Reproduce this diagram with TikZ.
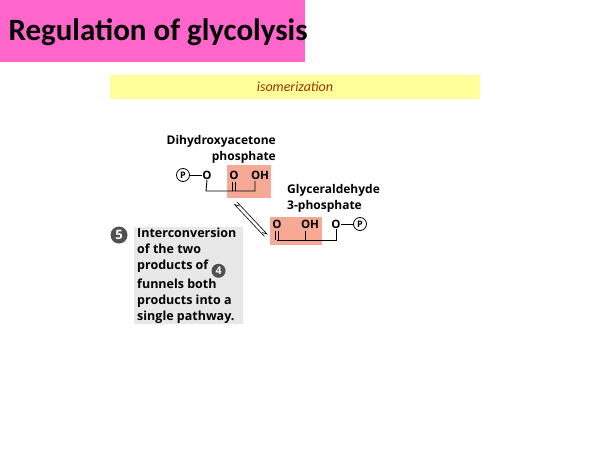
\documentclass[tikz,border=0pt]{standalone}
\usepackage{fontspec}
\setmainfont{Carlito}
\newfontfamily\figfont{Open Sans}
\usetikzlibrary{positioning}
\definecolor{titlepink}{RGB}{255,102,204}
\definecolor{baryellow}{RGB}{255,255,153}
\definecolor{isored}{RGB}{153,51,0}
\definecolor{hilite}{RGB}{246,170,150}
\definecolor{notegray}{RGB}{232,232,232}
\definecolor{stepgray}{RGB}{80,80,80}
\tikzset{
  lbl/.style={font=\figfont\bfseries\fontsize{12}{14}\selectfont, inner sep=0pt},
  atom/.style={font=\figfont\bfseries\fontsize{11.5}{12}\selectfont, inner sep=0.5pt},
  phos/.style={circle, draw, line width=0.8pt, inner sep=0pt, minimum size=13pt, font=\figfont\bfseries\fontsize{9}{9}\selectfont},
  stepnum/.style={circle, fill=stepgray, text=white, inner sep=0pt, minimum size=17pt, font=\figfont\bfseries\fontsize{13}{13}\selectfont},
  bond/.style={line width=0.9pt}
}
\begin{document}
\begin{tikzpicture}[x=1pt,y=-1pt]
\useasboundingbox (0,0) rectangle (600,450);
% title
\fill[titlepink] (0,0) rectangle (305,62);
\node[font=\bfseries\fontsize{31}{33}\selectfont, anchor=west] (title) at (5,32) {Regulation of glycolysis};
% step bar
\fill[baryellow] (110,75) rectangle (480,99);
\node[font=\itshape\fontsize{14}{16}\selectfont, text=isored] (iso) at (295,87) {isomerization};
% dihydroxyacetone phosphate
\fill[hilite] (227,165) rectangle (271,198);
\node[lbl, anchor=east] (dhap1) at (276,141) {Dihydroxyacetone};
\node[lbl, anchor=east] (dhap2) at (276,157) {phosphate};
\node[phos] (p1) at (183,175) {P};
\node[atom] (o1) at (207,175) {O};
\node[atom] (o2) at (234,175) {O};
\node[atom] (oh1) at (260,175) {OH};
\draw[bond] (p1) -- (o1);
\draw[bond] (o1.south) -- (206,191) -- (255,191) -- (255,181);
\draw[bond] (232.5,182) -- (232.5,191) (235.5,182) -- (235.5,191);
% glyceraldehyde 3-phosphate
\fill[hilite] (270,217) rectangle (322,245);
\node[lbl, anchor=west] (gap1) at (287,190) {Glyceraldehyde};
\node[lbl, anchor=west] (gap2) at (287,206) {3-phosphate};
\node[atom] (o3) at (277,224) {O};
\node[atom] (oh2) at (310,224) {OH};
\node[atom] (o4) at (336,224) {O};
\node[phos] (p2) at (360,224) {P};
\draw[bond] (o4) -- (p2);
\draw[bond] (275.5,231) -- (275.5,240) (278.5,231) -- (278.5,240);
\draw[bond] (277,240) -- (336,240) -- (o4.south);
\draw[bond] (305,240) -- (305,231);
% equilibrium arrows
\coordinate (a1) at (237,202);
\coordinate (a2) at (267,234);
\draw[line width=0.6pt] (a1) -- (a2) -- ++(-5,-1.5);
\draw[line width=0.6pt] ([xshift=-2.5pt,yshift=-2.5pt]a2) -- ([xshift=-2.5pt,yshift=-2.5pt]a1) -- ++(5,1.5);
% note
\fill[notegray] (134,227) rectangle (243,324);
\node[stepnum] (s5) at (119,235) {5};
\node[lbl, anchor=north west, align=left, font=\figfont\bfseries\fontsize{12.5}{16}\selectfont] (note) at (137,228)
  {Interconversion\\of the two\\products of \tikz[baseline=-4pt]\node[stepnum,minimum size=14pt,font=\figfont\bfseries\fontsize{10.5}{10.5}\selectfont]{4};\\funnels both\\products into a\\single pathway.};
\end{tikzpicture}
\end{document}
